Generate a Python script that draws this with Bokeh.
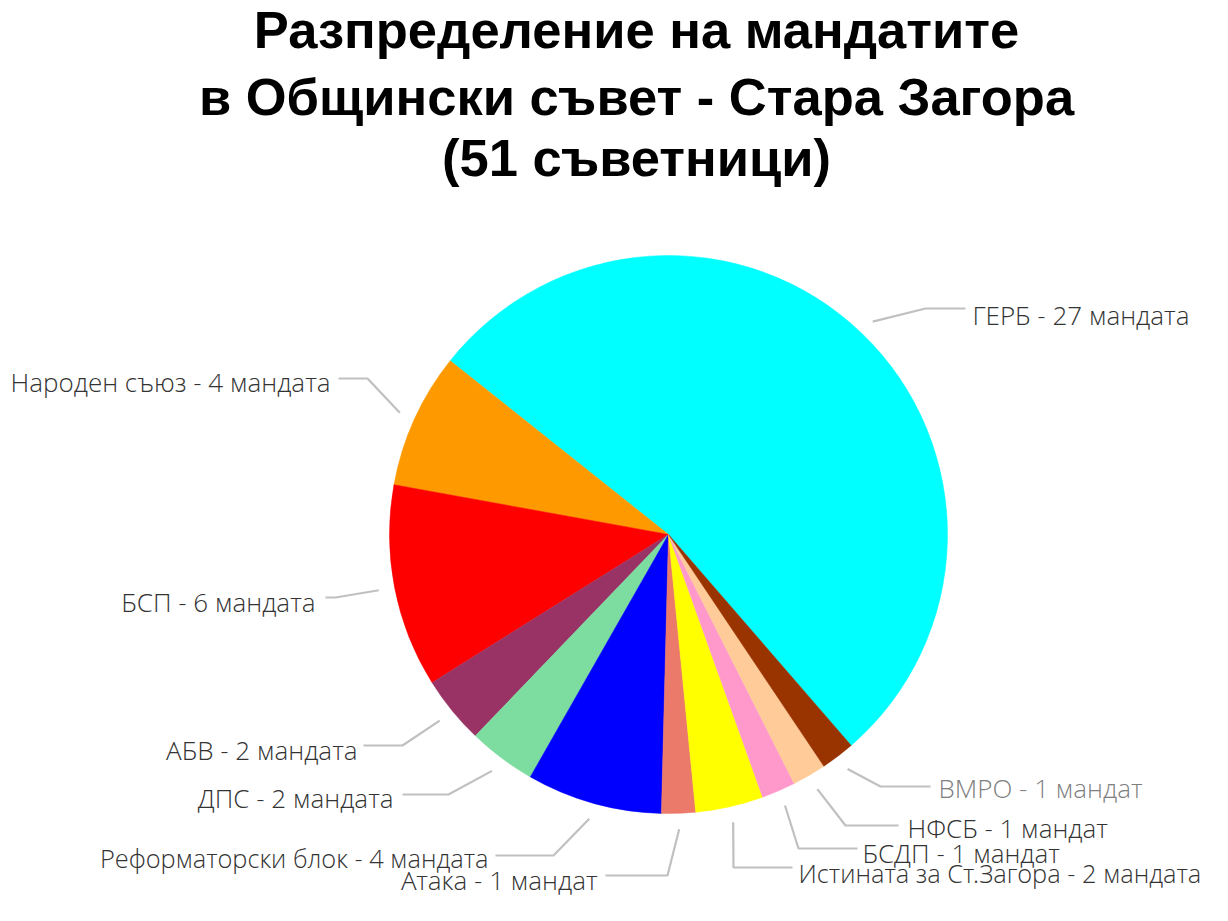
import math
from bokeh.plotting import figure
from bokeh.models import Range1d, ColumnDataSource
from bokeh.core.properties import value
from bokeh.embed import file_html
from bokeh.resources import INLINE

# ---------------- data ----------------
parties = ["ГЕРБ", "Народен съюз", "БСП", "АБВ", "ДПС", "Реформаторски блок",
           "Атака", "Истината за Ст.Загора", "БСДП", "НФСБ", "ВМРО"]
seats = [27, 4, 6, 2, 2, 4, 1, 2, 1, 1, 1]
colors = ["#00FFFF", "#FF9900", "#FF0000", "#993366", "#7DDCA0", "#0000FF",
          "#EC7A6A", "#FFFF00", "#FF99CC", "#FFCC99", "#993300"]
labels = ["ГЕРБ - 27 мандата", "Народен съюз - 4 мандата", "БСП - 6 мандата",
          "АБВ - 2 мандата", "ДПС - 2 мандата", "Реформаторски блок - 4 мандата",
          "Атака - 1 мандат", "Истината за Ст.Загора - 2 мандата", "БСДП - 1 мандат",
          "НФСБ - 1 мандат", "ВМРО - 1 мандат"]
title_lines = ["Разпределение на мандатите",
               "в Общински съвет - Стара Загора",
               "(51 съветници)"]

# ---------------- layout (page pixel coords, y downward) ----------------
W, H = 1212, 905
CX, CY, R = 668, 534, 279
START_DEG = -49.1
CONN_R = 295
LABEL_FS = 26
TITLE_FS = 52.5
BASE_SHIFT = 0.4  # renderer baseline correction, in em
# per label: elbow x, elbow/end y, end x, text x, text baseline y, align
label_layout = [
    (925, 308, 965, 972, 325, "left"),
    (367, 378, 338, 330, 392, "right"),
    (335, 597, 325, 315, 612, "right"),
    (402, 745, 363, 357, 760, "right"),
    (448, 794, 402, 393, 808, "right"),
    (553, 855, 495, 488, 868, "right"),
    (667, 875, 605, 597, 890, "right"),
    (733, 867, 792, 798, 883, "left"),
    (798, 848, 857, 862, 863, "left"),
    (845, 825, 898, 907, 838, "left"),
    (880, 786, 930, 938, 798, "left"),
]
label_colors = ["#333333"] * 10 + ["#7f7f7f"]

p = figure(width=W, height=H, output_backend="svg", toolbar_location=None,
           x_range=Range1d(0, W), y_range=Range1d(-H, 0),
           min_border=0, outline_line_color=None, background_fill_color="white",
           border_fill_color="white")
p.axis.visible = False
p.grid.visible = False

total = sum(seats)
starts, ends, mids = [], [], []
a = math.radians(START_DEG)
for s in seats:
    da = 2 * math.pi * s / total
    starts.append(a)
    ends.append(a + da)
    mids.append(a + da / 2)
    a += da

src = ColumnDataSource(dict(start=starts, end=ends, color=colors))
p.wedge(x=CX, y=-CY, radius=R, start_angle="start", end_angle="end",
        fill_color="color", line_color="color", line_width=0.5, source=src)

# connectors
xs, ys = [], []
for m, (ex, ey, endx, tx, ty, al) in zip(mids, label_layout):
    sx = CX + CONN_R * math.cos(m)
    sy = CY - CONN_R * math.sin(m)
    xs.append([sx, ex, endx])
    ys.append([-sy, -ey, -ey])
p.multi_line(xs=xs, ys=ys, line_color="#C0C0C0", line_width=2.2)

# labels
for lab, (ex, ey, endx, tx, ty, al), c in zip(labels, label_layout, label_colors):
    fs = LABEL_FS if len(lab) < 30 else LABEL_FS - 0.6
    p.text(x=[tx], y=[-(ty - BASE_SHIFT * LABEL_FS)], text=[lab],
           text_font=value("Open Sans Light, Open Sans"),
           text_font_size=f"{fs}px", text_color=c, text_align=al,
           text_baseline="alphabetic")

# title
title_base = [50, 117, 178]
for t, b in zip(title_lines, title_base):
    p.text(x=[636], y=[-(b - BASE_SHIFT * TITLE_FS)], text=[t],
           text_font=value("Liberation Sans"),
           text_font_style="bold", text_font_size=f"{TITLE_FS}px", text_color="black",
           text_align="center", text_baseline="alphabetic")

open("out.html", "w").write(file_html(p, INLINE))
